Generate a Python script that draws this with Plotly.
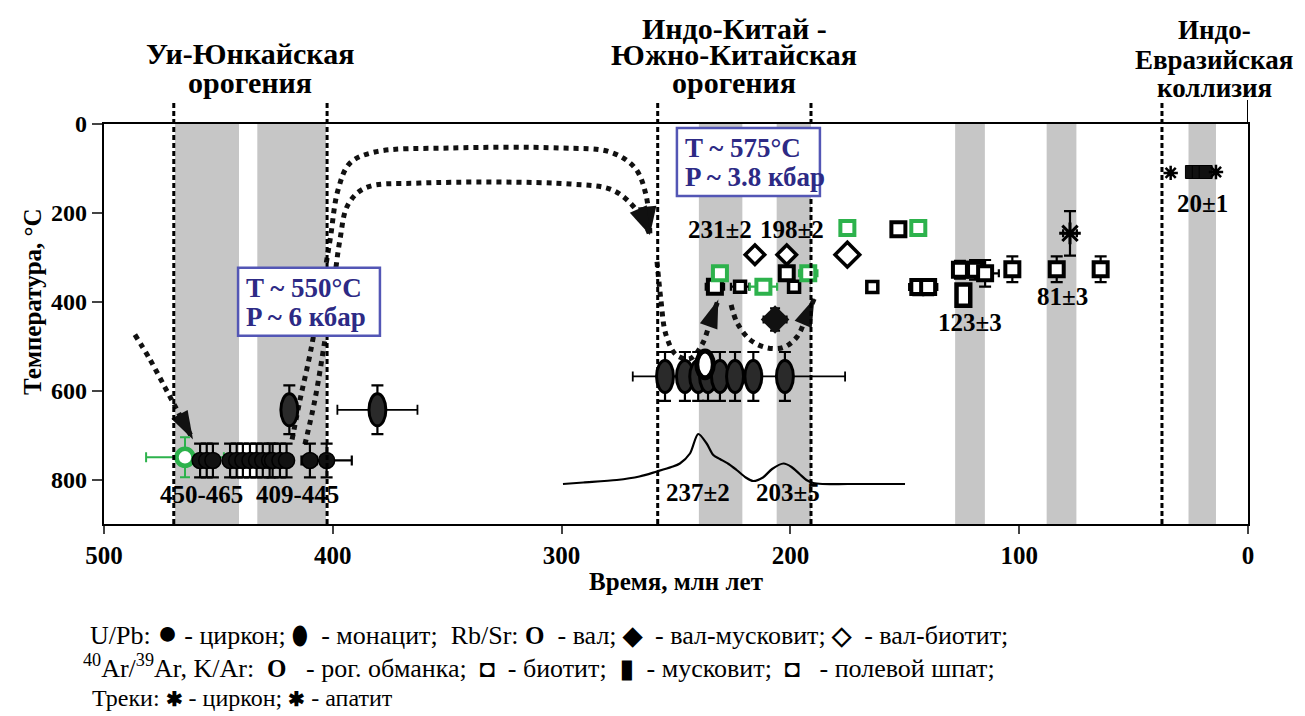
import plotly.graph_objects as go

FONT = "Liberation Serif, Times New Roman, serif"
GREEN = "#2db24c"
BLUE_BORDER = "#5356b5"
BLUE_TEXT = "#2d2a85"
GRAY = "#c6c6c6"

# ---------------- data (time, Ma ; temperature, °C) ----------------
band_from = [469, 433, 240, 206, 128, 88, 26]
band_to = [441, 403, 221, 191, 115, 75, 14]
boundary_t = [469.5, 402.5, 258, 191, 37.6]

# U/Pb zircon
zr_t = [458.0, 455.1, 452.4, 444.9, 442.0, 439.3, 436.2, 433.3, 430.6, 427.6, 426.3, 423.1, 420.2, 410.0, 402.7]
zr_T = [757, 757, 757, 757, 757, 757, 757, 757, 757, 757, 757, 757, 757, 757, 757]
zr_dT = [38, 38, 38, 38, 38, 38, 38, 38, 38, 38, 38, 38, 38, 38, 38]
zr_dt = [0, 0, 0, 0, 0, 0, 0, 0, 0, 0, 0, 0, 0, 3, 11]

# green sample (open circle)
gc_t = [464.6]
gc_T = [750]
gc_dt = [17]
gc_dT = [45]

# U/Pb monazite (ellipses)
mz_t = [419.0, 380.5, 254.8, 246.1, 240.3, 236.0, 230.8, 224.2, 216.2, 202.4]
mz_T = [643, 643, 568, 568, 568, 568, 568, 568, 568, 568]
mz_dT = [55, 55, 55, 55, 55, 55, 55, 55, 55, 55]
mz_dt_plus = [0, 17.5, 0, 0, 0, 0, 0, 44.7, 0, 0]
mz_dt_minus = [0, 17.5, 0, 0, 0, 0, 0, 48.1, 0, 0]

# Rb/Sr whole rock (ring)
wr_t = [237.3]
wr_T = [541]

# Rb/Sr whole rock - muscovite (filled diamond)
wm_t = [206.7]
wm_T = [440]
# Rb/Sr whole rock - biotite (open diamonds)
wb_t = [215.5, 201.6, 175.1]
wb_T = [294, 294, 294]

# Ar/Ar, K/Ar biotite (open squares)
bt_t = [233.0, 201.6, 152.8, 144.1, 139.8, 125.9, 119.3, 114.9, 103.0, 83.6, 64.4]
bt_T = [366, 336, 237, 367, 367, 328, 328, 336, 327, 327, 327]
bt_dT = [10, 12, 8, 18, 18, 20, 22, 30, 29, 29, 29]
bt_dt = [4, 0, 0, 4, 4, 0, 0, 6, 0, 0, 0]
# feldspar (small squares)
fs_t = [222.0, 198.4, 164.2]
fs_T = [366, 366, 367]
fs_dT = [12, 12, 12]
fs_dt = [4, 0, 0]
# green open squares
gs_t = [230.8, 192.2, 175.1, 144.1, 211.8]
gs_T = [336, 336, 234, 234, 366]
gs_dT = [12, 12, 12, 12, 12]
gs_dt = [0, 4, 0, 0, 6]
# muscovite (tall rectangle)
ms_t = [124.4]
ms_T = [385]
# fission tracks
zt_t = [77.8]
zt_T = [246]
ap_t = [33.8, 14.0]
ap_T = [110, 108]
cl_t = [24.5, 21.5, 18.5]
cl_T = [108, 108, 108]

# KDE of ages (relative density)
kde_t = [299.4, 290.5, 275.9, 266, 258.4, 252, 248.3, 243.9, 240.3, 236.6, 233.7, 230.8, 227,
         223.5, 219.5, 216.3, 212, 208, 203, 199.5, 196, 193, 190, 186, 175, 149.9]
kde_d = [0.0, 0.03, 0.08, 0.15, 0.25, 0.34, 0.41, 0.61, 1.0, 0.81, 0.58, 0.5, 0.4,
         0.28, 0.13, 0.06, 0.13, 0.3, 0.41, 0.34, 0.2, 0.08, 0.02, 0.0, 0.0, 0.0]

# P-T-t trajectories (dotted arrows)
path_a_t = [486.5, 479.9, 473.3, 467.7, 461.1]
path_a_T = [474, 530, 593, 647, 710]
path_b_t = [417.8, 414.3, 410.0, 405.6, 401.2, 397.7, 392.5, 381.6, 348.8, 300.7, 278.8, 267.9, 263.1, 261.4]
path_b_T = [710, 620, 519, 396, 261, 148, 88, 63, 54, 54, 63, 99, 160, 250]
path_c_t = [412.2, 407.8, 403.4, 399.9, 396.9, 393.4, 385.9, 361.9, 296.3, 278.0, 269.2, 264.0, 261.4]
path_c_T = [721, 620, 485, 373, 261, 182, 144, 133, 135, 148, 182, 220, 250]
path_d_t = [258.3, 256.6, 254.4, 250.0, 243.9, 238.7, 235.0, 231.5]
path_d_T = [310, 396, 474, 519, 528, 497, 445, 395]
path_e_t = [225.9, 223.3, 217.7, 210.7, 203.2, 197.1, 193.5, 189.5]
path_e_T = [407, 447, 485, 503, 503, 479, 440, 392]

# P-T boxes: (t_left, t_right, T_top, T_bottom) and texts
box_t0 = [441.4, 249.6]
box_t1 = [379.4, 187.1]
box_T0 = [323.6, 9.0]
box_T1 = [476.4, 161.8]
box_line1 = ["T ~ 550°C", "T ~ 575°C"]
box_line2 = ["P ~ 6 кбар", "P ~ 3.8 кбар"]

fig = go.Figure()


def ebar(arr, minus=None, color="black", width=5, thick=2.2):
    d = dict(type="data", array=arr, visible=True, width=width, thickness=thick, color=color)
    if minus is not None:
        d["arrayminus"] = minus
        d["symmetric"] = False
    return d


# KDE
fig.add_trace(go.Scatter(x=kde_t, y=kde_d, yaxis="y2", mode="lines",
                         line=dict(color="black", width=2.2, shape="spline", smoothing=0.8),
                         hoverinfo="skip"))

# dotted paths
for pt, pT in [(path_a_t, path_a_T), (path_b_t, path_b_T), (path_c_t, path_c_T),
               (path_d_t, path_d_T), (path_e_t, path_e_T)]:
    fig.add_trace(go.Scatter(x=pt, y=pT, mode="lines",
                             line=dict(color="#111111", width=5, dash="dot", shape="spline"),
                             hoverinfo="skip"))
    fig.add_trace(go.Scatter(x=pt[-2:], y=pT[-2:], mode="markers",
                             marker=dict(symbol="arrow", size=[0, 30], color="#111111", opacity=1,
                                         angleref="previous", line=dict(width=0)),
                             hoverinfo="skip"))

# green sample
fig.add_trace(go.Scatter(x=gc_t, y=gc_T, mode="markers",
                         error_x=ebar(gc_dt, color=GREEN, thick=2), error_y=ebar(gc_dT, color=GREEN, thick=2),
                         marker=dict(symbol="circle", size=17, color="white", opacity=1,
                                     line=dict(color=GREEN, width=4.5))))
# zircon
fig.add_trace(go.Scatter(x=zr_t, y=zr_T, mode="markers",
                         error_x=ebar(zr_dt), error_y=ebar(zr_dT, width=6),
                         marker=dict(symbol="circle", size=16, color="#111111", opacity=1,
                                     line=dict(color="black", width=1.5))))
# monazite error bars (ellipses drawn as shapes)
fig.add_trace(go.Scatter(x=mz_t, y=mz_T, mode="markers",
                         error_x=ebar(mz_dt_plus, minus=mz_dt_minus, thick=1.8),
                         error_y=ebar(mz_dT, width=6),
                         marker=dict(size=2, color="rgba(0,0,0,0)")))
# open diamonds
fig.add_trace(go.Scatter(x=wb_t, y=wb_T, mode="markers",
                         error_y=ebar([12, 12, 14], width=4),
                         marker=dict(symbol="diamond", size=[15, 15, 19], color="white", opacity=1,
                                     line=dict(color="black", width=3.5))))
# filled diamond
fig.add_trace(go.Scatter(x=wm_t, y=wm_T, mode="markers",
                         error_x=ebar([5], width=4), error_y=ebar([25], width=5),
                         marker=dict(symbol="diamond", size=22, color="#111111", opacity=1)))
# biotite
fig.add_trace(go.Scatter(x=bt_t, y=bt_T, mode="markers",
                         error_x=ebar(bt_dt, width=4), error_y=ebar(bt_dT, width=6),
                         marker=dict(symbol="square", size=14, color="white", opacity=1,
                                     line=dict(color="black", width=4))))
# feldspar
fig.add_trace(go.Scatter(x=fs_t, y=fs_T, mode="markers",
                         error_x=ebar(fs_dt, width=4), error_y=ebar(fs_dT, width=4),
                         marker=dict(symbol="square", size=11, color="white", opacity=1,
                                     line=dict(color="black", width=3.5))))
# green squares
fig.add_trace(go.Scatter(x=gs_t, y=gs_T, mode="markers",
                         error_x=ebar(gs_dt, color=GREEN, width=4), error_y=ebar(gs_dT, color=GREEN, width=5),
                         marker=dict(symbol="square", size=14, color="white", opacity=1,
                                     line=dict(color=GREEN, width=4))))
# fission tracks
fig.add_trace(go.Scatter(x=zt_t, y=zt_T, mode="markers",
                         error_x=ebar([3], width=4), error_y=ebar([50], width=6),
                         marker=dict(symbol="asterisk-open", size=18, color="black", opacity=1,
                                     line=dict(color="black", width=3))))
fig.add_trace(go.Scatter(x=cl_t, y=cl_T, mode="markers",
                         marker=dict(symbol="square", size=13, color="#111111", opacity=1,
                                     line=dict(color="black", width=1))))
fig.add_trace(go.Scatter(x=ap_t, y=ap_T, mode="markers",
                         marker=dict(symbol="asterisk-open", size=12, color="black", opacity=1,
                                     line=dict(color="black", width=2.5))))

shapes = []
# grey bands
for a, b in zip(band_from, band_to):
    shapes.append(dict(type="rect", xref="x", yref="paper", x0=a, x1=b, y0=0, y1=1,
                       fillcolor=GRAY, line=dict(width=0), layer="below"))
# dashed boundaries
for t in boundary_t:
    shapes.append(dict(type="line", xref="x", yref="paper", x0=t, x1=t, y0=0, y1=1.06,
                       line=dict(color="black", width=3, dash="5px,3px")))
shapes.append(dict(type="line", xref="x", yref="paper", x0=0, x1=0, y0=1, y1=1.06,
                   line=dict(color="black", width=2)))
# monazite ellipses
for t, T in zip(mz_t, mz_T):
    shapes.append(dict(type="circle", xref="x", yref="y", x0=t - 3.7, x1=t + 3.7, y0=T - 36, y1=T + 36,
                       fillcolor="#2a2a2a", line=dict(color="black", width=3), layer="above"))
# Rb/Sr whole rock ring
for t, T in zip(wr_t, wr_T):
    shapes.append(dict(type="circle", xref="x", yref="y", x0=t - 3.6, x1=t + 3.6, y0=T - 30, y1=T + 30,
                       fillcolor="white", line=dict(color="black", width=5), layer="above"))
# muscovite rectangle
for t, T in zip(ms_t, ms_T):
    shapes.append(dict(type="rect", xref="x", yref="y", x0=t - 3.0, x1=t + 3.0, y0=T - 24, y1=T + 24,
                       fillcolor="white", line=dict(color="black", width=4.5), layer="above"))
# P-T boxes
for a, b, c, d in zip(box_t0, box_t1, box_T0, box_T1):
    shapes.append(dict(type="rect", xref="x", yref="y", x0=a, x1=b, y0=c, y1=d,
                       fillcolor="white", line=dict(color=BLUE_BORDER, width=2.5), layer="above"))

annotations = []
# headers with double arrows
header_lines = [
    ["Уи-Юнкайская", "орогения"],
    ["Индо-Китай -", "Южно-Китайская", "орогения"],
    ["Индо-", "Евразийская", "коллизия"],
]
header_y = [[1.1775, 1.105], [1.24, 1.1725, 1.1025], [1.235, 1.16, 1.09]]
header_x = [436.0, 224.5, 14.8]
header_size = [30, 30, 27]
arrow_ends = [(boundary_t[0], boundary_t[1]), (boundary_t[2], boundary_t[3]), (boundary_t[4], 0)]
for lines, ys, xc, fsz, (a, b) in zip(header_lines, header_y, header_x, header_size, arrow_ends):
    annotations.append(dict(xref="x", yref="y", x=b, y=-38, axref="x", ayref="y", ax=a, ay=-38,
                            showarrow=True, arrowhead=2, arrowside="end+start", arrowsize=1.7,
                            arrowwidth=2.2, arrowcolor="black", text=""))
    for ln, yy in zip(lines, ys):
        annotations.append(dict(xref="x", yref="paper", x=xc, y=yy, yanchor="middle",
                                text="<b>" + ln + "</b>", showarrow=False,
                                font=dict(family=FONT, size=fsz, color="black")))

# age labels
labels = [("450-465", 457.4, 834), ("409-445", 415.4, 834), ("237±2", 240.4, 829), ("203±5", 201.0, 829),
          ("231±2", 230.8, 238), ("198±2", 199.3, 238), ("123±3", 121.5, 447), ("81±3", 80.9, 389),
          ("20±1", 20.1, 178)]
for txt, t, T in labels:
    annotations.append(dict(xref="x", yref="y", x=t, y=T, text="<b>" + txt + "</b>", showarrow=False,
                            font=dict(family=FONT, size=25, color="black")))

# P-T box texts
for a, c, d, l1, l2 in zip(box_t0, box_T0, box_T1, box_line1, box_line2):
    h = d - c
    annotations.append(dict(xref="x", yref="y", x=a - 2.6, y=c + 0.29 * h, xanchor="left", yanchor="middle",
                            text="<b>" + l1 + "</b>", showarrow=False,
                            font=dict(family=FONT, size=27, color=BLUE_TEXT)))
    annotations.append(dict(xref="x", yref="y", x=a - 2.6, y=c + 0.72 * h, xanchor="left", yanchor="middle",
                            text="<b>" + l2 + "</b>", showarrow=False,
                            font=dict(family=FONT, size=27, color=BLUE_TEXT)))

# y-axis title
annotations.append(dict(xref="paper", yref="paper", x=-0.063, y=0.5575, textangle=-90,
                        xanchor="center", yanchor="middle",
                        text="<b>Температура, °C</b>", showarrow=False,
                        font=dict(family=FONT, size=25, color="black")))

# legend text lines
NB = "\u00a0"
big = "<span style='font-size:25px'><b>%s</b></span>"
huge = "<span style='font-size:34px'><b>%s</b></span>"
small = "<span style='font-size:20px'><b>%s</b></span>"


def sym(s, pre=0, post=1, fmt=big):
    return NB * pre + fmt % s + NB * post


leg1 = ("U/Pb: " + sym("●", 0, 0, huge) + " - циркон; " + sym("⬮") + " - монацит;  Rb/Sr: " + sym("O") +
        " - вал; " + sym("◆") + " - вал-мусковит; " + sym("◇") + " - вал-биотит;")
leg2 = ("<sup>40</sup>Ar/<sup>39</sup>Ar, K/Ar: " + sym("O", 1, 2) + " - рог. обманка; " + sym("◘", 1, 1) +
        " - биотит; " + sym("▮", 1, 1) + " - мусковит; " + sym("◘", 1, 1) + "  - полевой шпат;")
leg3 = "Треки: " + sym("✱", 0, 0, small) + " - циркон; " + sym("✱", 0, 0, small) + " - апатит"
for txt, yy, xx, fsz in [(leg1, -0.27, -0.014, 26), (leg2, -0.355, -0.02, 26), (leg3, -0.435, -0.012, 24)]:
    annotations.append(dict(xref="paper", yref="paper", x=xx, y=yy, xanchor="left", yanchor="middle",
                            text=txt, showarrow=False, font=dict(family=FONT, size=fsz, color="black")))

fig.update_layout(
    width=1305, height=716,
    margin=dict(l=104, r=57, t=124, b=192),
    paper_bgcolor="white", plot_bgcolor="white",
    showlegend=False,
    shapes=shapes, annotations=annotations,
    font=dict(family=FONT, color="black"),
    xaxis=dict(range=[500, 0], tickvals=[500, 400, 300, 200, 100, 0], ticks="outside", ticklen=8,
               tickwidth=2, showline=True, linecolor="black", linewidth=2.2, mirror=True,
               showgrid=False, zeroline=False,
               tickfont=dict(family=FONT, size=25, color="black", weight="bold"),
               title=dict(text="<b>Время, млн лет</b>", standoff=4,
                          font=dict(family=FONT, size=25, color="black"))),
    yaxis=dict(range=[900, 0], tickvals=[0, 200, 400, 600, 800], ticks="outside", ticklen=10,
               tickwidth=2, showline=True, linecolor="black", linewidth=2.2, mirror=True,
               showgrid=False, zeroline=False,
               tickfont=dict(family=FONT, size=24, color="black", weight="bold")),
    yaxis2=dict(overlaying="y", range=[-0.8, 7.2], visible=False, showgrid=False, zeroline=False),
)

fig.write_html("out.html")
